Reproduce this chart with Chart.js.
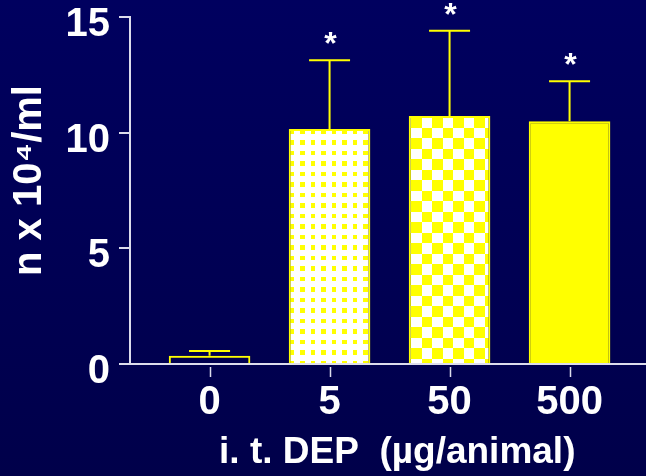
<!DOCTYPE html>
<html>
<head>
<meta charset="utf-8">
<script src="https://cdn.jsdelivr.net/npm/chart.js@4.4.1/dist/chart.umd.min.js"></script>
<style>
  html, body { margin: 0; padding: 0; background: #000058; }
  #wrap { width: 646px; height: 476px; }
</style>
</head>
<body>
<div id="wrap"><canvas id="c" width="646" height="476"></canvas></div>
<script>
// ---- data ----
const doseLabels = ['0', '5', '50', '500'];
const means = [0.36, 10.16, 10.72, 10.49];
const errors = [0.20, 2.97, 3.69, 1.73];
const significant = [false, true, true, true];
const yTickValues = [0, 5, 10, 15];
const yAxisTitle = '\u2002n x 10\u2074/ml';
const xAxisTitle = '\u2002i. t. DEP  (\u00b5g/animal)';

const YELLOW = '#ffff00';
const WHITE = '#ffffff';
const AXIS = '#dcdcec';
const FONT = "'Liberation Sans', Arial, sans-serif";

function makeDots() {
  const t = document.createElement('canvas');
  t.width = 21; t.height = 21;
  const g = t.getContext('2d');
  g.fillStyle = WHITE; g.fillRect(0, 0, 21, 21);
  g.fillStyle = YELLOW;
  [[0, 5], [11, 4]].forEach(([x, w]) => {
    [[0, 5], [11, 4]].forEach(([y, h]) => g.fillRect(x, y, w, h));
  });
  const p = g.createPattern(t, 'repeat');
  p.setTransform(new DOMMatrix([1, 0, 0, 1, 6, 14]));
  return p;
}
function makeChecker() {
  const t = document.createElement('canvas');
  t.width = 21; t.height = 21;
  const g = t.getContext('2d');
  g.fillStyle = WHITE; g.fillRect(0, 0, 21, 21);
  g.fillStyle = YELLOW;
  g.fillRect(0, 0, 11, 11);
  g.fillRect(11, 11, 10, 10);
  const p = g.createPattern(t, 'repeat');
  p.setTransform(new DOMMatrix([1, 0, 0, 1, 12, 12]));
  return p;
}

const bgPlugin = {
  id: 'bg',
  beforeDraw(chart) {
    const { ctx, width, height } = chart;
    const gr = ctx.createLinearGradient(0, 0, 0, height);
    gr.addColorStop(0, '#00005f');
    gr.addColorStop(1, '#00004a');
    ctx.save();
    ctx.fillStyle = gr;
    ctx.fillRect(0, 0, width, height);
    ctx.restore();
  }
};

const errPlugin = {
  id: 'errbars',
  afterDatasetsDraw(chart) {
    const { ctx } = chart;
    const y = chart.scales.y;
    const xs = chart.scales.x;
    const meta = chart.getDatasetMeta(0);
    ctx.save();
    // x-axis tick marks (slightly detached below the axis line)
    ctx.strokeStyle = AXIS;
    ctx.lineWidth = 1.5;
    xs.ticks.forEach((t, i) => {
      const px = Math.round(xs.getPixelForTick(i)) + 0.5;
      ctx.beginPath();
      ctx.moveTo(px, xs.top + 3);
      ctx.lineTo(px, xs.top + 13);
      ctx.stroke();
    });
    meta.data.forEach((bar, i) => {
      const x = bar.x;
      const yBar = y.getPixelForValue(means[i]);
      const yTop = y.getPixelForValue(means[i] + errors[i]);
      ctx.strokeStyle = YELLOW;
      ctx.lineWidth = 2;
      ctx.beginPath();
      ctx.moveTo(x, yBar);
      ctx.lineTo(x, yTop);
      ctx.moveTo(x - 20.5, yTop);
      ctx.lineTo(x + 20.5, yTop);
      ctx.stroke();
      if (significant[i]) {
        ctx.fillStyle = WHITE;
        ctx.font = 'bold 32px ' + FONT;
        ctx.textAlign = 'center';
        ctx.textBaseline = 'alphabetic';
        ctx.fillText('*', x + 1, yTop - 24 + 18);
      }
    });
    ctx.restore();
  }
};

const chart = new Chart(document.getElementById('c'), {
  type: 'bar',
  data: {
    datasets: [{
      data: means.map((v, i) => ({ x: i, y: v })),
      backgroundColor: ['rgba(0,0,0,0)', makeDots(), makeChecker(), YELLOW],
      borderColor: YELLOW,
      borderWidth: 2,
      borderSkipped: 'bottom',
      categoryPercentage: 1,
      barPercentage: 0.68
    }]
  },
  options: {
    responsive: false,
    animation: false,
    events: [],
    layout: { padding: { top: 17, left: 0, right: 0, bottom: 0 } },
    plugins: { legend: { display: false }, tooltip: { enabled: false } },
    scales: {
      x: {
        type: 'linear',
        min: -0.663,
        max: 3.637,
        offset: false,
        afterBuildTicks: (s) => { s.ticks = doseLabels.map((d, i) => ({ value: i })); },
        afterFit: (s) => { s.height = 112; s.paddingLeft = 0; s.paddingRight = 0; },
        border: { display: true, color: AXIS, width: 2 },
        grid: { display: false, offset: false, drawOnChartArea: false, drawTicks: true, tickLength: 13 },
        ticks: {
          color: WHITE,
          padding: 2,
          maxRotation: 0,
          autoSkip: false,
          font: { family: FONT, size: 40, weight: 'bold' },
          callback: (v) => doseLabels[v]
        },
        title: {
          display: true,
          text: xAxisTitle,
          color: WHITE,
          font: { family: FONT, size: 37, weight: 'bold' },
          padding: { top: 0, bottom: 1 }
        }
      },
      y: {
        min: 0,
        max: 15,
        afterBuildTicks: (s) => { s.ticks = yTickValues.map(v => ({ value: v })); },
        afterFit: (s) => { s.width = 130; s.paddingTop = 0; s.paddingBottom = 0; },
        border: { display: true, color: AXIS, width: 2 },
        grid: { drawOnChartArea: false, drawTicks: true, tickLength: 11, color: AXIS, lineWidth: 2 },
        ticks: {
          color: WHITE,
          padding: 9,
          labelOffset: 8,
          font: { family: FONT, size: 40, weight: 'bold' },
          callback: (v) => String(v)
        },
        title: {
          display: true,
          text: yAxisTitle,
          color: WHITE,
          font: { family: FONT, size: 40, weight: 'bold' },
          padding: { top: 6, bottom: 0 }
        }
      }
    }
  },
  plugins: [bgPlugin, errPlugin]
});
</script>
</body>
</html>
